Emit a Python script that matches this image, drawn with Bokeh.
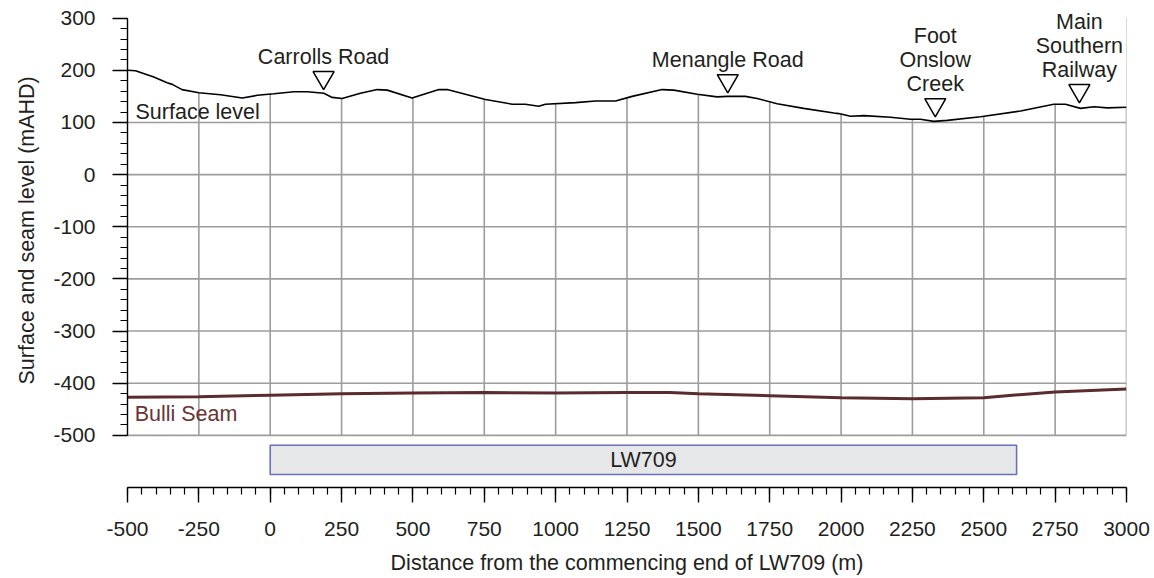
from bokeh.plotting import figure
from bokeh.models import FixedTicker, ColumnDataSource, Range1d, Title
from bokeh.core.properties import value
from bokeh.embed import file_html
from bokeh.resources import INLINE

# Surface level along the section line (distance in m, level in mAHD)
surface_x = [-500, -472, -408, -361, -343, -309, -250, -174, -98, -45, 13, 83, 130,
             188, 217, 252, 316, 375, 410, 497, 591, 620, 754, 848, 894, 941, 964,
             1070, 1140, 1210, 1268, 1373, 1414, 1496, 1566, 1601, 1665, 1706, 1776,
             1869, 1975, 1992, 2033, 2080, 2173, 2243, 2278, 2325, 2372, 2489, 2629,
             2745, 2786, 2839, 2886, 2933, 3000]
surface_y = [200, 199, 187, 176, 173, 163, 157, 153, 147, 152, 155, 159, 159,
             156, 148, 146, 156, 163, 162, 147, 163, 163, 144, 135, 135, 131, 135,
             138, 141, 141, 150, 163, 162, 154, 149, 150, 150, 146, 136,
             127, 118, 117, 112, 113, 110, 106, 106, 102, 104, 111, 122,
             135, 135, 127, 130, 128, 129]

# Bulli Seam floor level
seam_x = [-500, -250, 0, 250, 500, 750, 1000, 1250, 1400, 1500, 1750, 2000, 2250,
          2500, 2600, 2750, 3000]
seam_y = [-427, -426, -423, -420, -419, -418, -419, -418, -418, -420, -424, -428,
          -430, -428, -423, -417, -411]

# Surface features marked along the section
feature_names = ["Carrolls Road", "Menangle Road", "Foot\nOnslow\nCreek",
                 "Main\nSouthern\nRailway"]
feature_x = [187, 1603, 2330, 2835]
feature_y = [186, 180, 134, 161]

# Longwall panel extent
panel_name = "LW709"
panel_start = 0
panel_end = 2615

x_ticks = list(range(-500, 3001, 250))
x_minor = list(range(-500, 3001, 50))
y_ticks = list(range(-500, 301, 100))
y_minor = list(range(-500, 301, 20))

FONT = "Liberation Sans"
TXT = "#231f20"
GRID = "#9d9d9d"
Y_TOP = 330  # headroom above the 300 mAHD tick for the feature names

p = figure(width=1154, height=578,
           x_range=Range1d(-500, 3000), y_range=Range1d(-600, Y_TOP),
           output_backend="svg", toolbar_location=None,
           min_border_left=127, min_border_right=28,
           min_border_top=2, min_border_bottom=91)
p.outline_line_color = None
p.xgrid.grid_line_color = None
p.ygrid.grid_line_color = None
p.background_fill_color = "white"

# grid lines over the section area (-500 to 300 mAHD)
gx = x_ticks[1:]
p.segment(x0=gx, y0=[y_ticks[0]] * len(gx), x1=gx, y1=[y_ticks[-1]] * len(gx),
          line_color=GRID, line_width=1.6)
p.segment(x0=[x_ticks[0]] * len(y_ticks), y0=y_ticks,
          x1=[x_ticks[-1]] * len(y_ticks), y1=y_ticks,
          line_color=GRID, line_width=1.6)

# blank out everything above ground
p.varea(x=surface_x, y1=surface_y, y2=[Y_TOP] * len(surface_x),
        fill_color="white")

p.line(surface_x, surface_y, line_color="black", line_width=1.6)
p.line(seam_x, seam_y, line_color="#5a2c2c", line_width=3)

p.scatter(feature_x, feature_y, marker="inverted_triangle", size=21,
          fill_color="white", line_color="black", line_width=1.5)

# feature names stacked above their markers
lx, ly, lt, loff = [], [], [], []
for name, fx, fy in zip(feature_names, feature_x, feature_y):
    lines = name.split("\n")
    n = len(lines)
    for i, t in enumerate(lines):
        lx.append(fx)
        ly.append(fy)
        lt.append(t)
        loff.append(-20.5 - (n - 1 - i) * 24.3)
src = ColumnDataSource(dict(x=lx, y=ly, text=lt, off=loff))
p.text(x="x", y="y", text="text", y_offset="off", source=src,
       text_align="center", text_baseline="middle",
       text_font=value(FONT), text_font_size="21.5px", text_color=TXT)

p.text(x=[-472], y=[119.5], text=["Surface level"], text_align="left",
       text_baseline="middle", text_font=value(FONT), text_font_size="21.5px",
       text_color=TXT)
p.text(x=[-475], y=[-459], text=["Bulli Seam"], text_align="left",
       text_baseline="middle", text_font=value(FONT), text_font_size="21.5px",
       text_color="#6a3434")

# longwall panel
p.quad(left=[panel_start], right=[panel_end], top=[-519], bottom=[-575],
       fill_color="#e6e7e8", line_color="#6b6fc0", line_width=1.6)
p.text(x=[(panel_start + panel_end) / 2], y=[-547], text=[panel_name],
       text_align="center", text_baseline="middle", text_font=value(FONT),
       text_font_size="21.5px", text_color=TXT)

# axes
for ax in (p.xaxis[0], p.yaxis[0]):
    ax.axis_line_color = "black"
    ax.axis_line_width = 1.4
    ax.major_tick_line_color = "black"
    ax.minor_tick_line_color = "black"
    ax.major_tick_line_width = 1.4
    ax.minor_tick_line_width = 1.2
    ax.major_tick_in = 0
    ax.minor_tick_in = 0
    ax.major_tick_out = 15
    ax.minor_tick_out = 7
    ax.major_label_text_font = FONT
    ax.major_label_text_font_size = "21px"
    ax.major_label_text_color = TXT
    ax.axis_label_text_font = FONT
    ax.axis_label_text_font_size = "21.5px"
    ax.axis_label_text_font_style = "normal"
    ax.axis_label_text_color = TXT

p.xaxis.ticker = FixedTicker(ticks=x_ticks, minor_ticks=x_minor)
p.xaxis.major_label_overrides = {t: str(t) for t in x_ticks}
p.xaxis.axis_label = "Distance from the commencing end of LW709 (m)"
p.xaxis.major_label_standoff = 19
p.xaxis.axis_label_standoff = 12

p.yaxis.ticker = FixedTicker(ticks=y_ticks, minor_ticks=y_minor)
p.yaxis.major_label_overrides = {t: str(t) for t in y_ticks}
p.yaxis.bounds = (y_ticks[0], y_ticks[-1])
p.yaxis.major_label_standoff = 17

# vertical axis title, set against the -500..300 span rather than the full frame
p.add_layout(Title(text="Surface and seam level (mAHD)", align="left",
                   vertical_align="top", offset=103, standoff=20,
                   text_font=FONT, text_font_size="21.5px",
                   text_font_style="normal", text_color=TXT), "left")

open("out.html", "w").write(file_html(p, INLINE))
